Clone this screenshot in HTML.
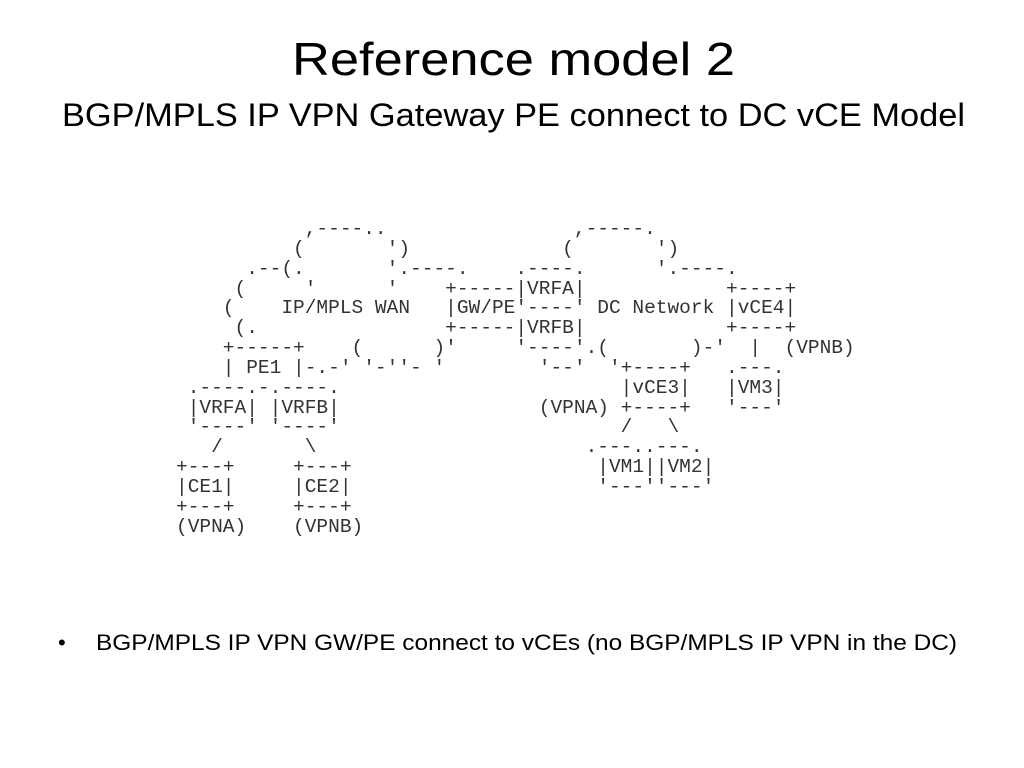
<!DOCTYPE html>
<html><head><meta charset="utf-8"><style>
html,body{margin:0;padding:0;background:#fff;}
body{width:1024px;height:768px;position:relative;overflow:hidden;}
svg{position:absolute;left:0;top:0;}
pre{position:absolute;left:176px;top:220px;margin:0;font-family:"Liberation Mono",monospace;font-size:19.5px;line-height:19.85px;color:#333;}
</style></head><body>
<svg width="1024" height="768" xmlns="http://www.w3.org/2000/svg">
<text x="292" y="75" font-family="Liberation Sans, sans-serif" font-size="46" textLength="443" lengthAdjust="spacingAndGlyphs" fill="#000">Reference model  2</text>
<text x="62" y="126" font-family="Liberation Sans, sans-serif" font-size="32" textLength="903" lengthAdjust="spacingAndGlyphs" fill="#000">BGP/MPLS IP VPN Gateway PE connect to DC vCE Model</text>
<text x="58" y="650" font-family="Liberation Sans, sans-serif" font-size="22" fill="#000">•</text>
<text x="96" y="650" font-family="Liberation Sans, sans-serif" font-size="22" textLength="861" lengthAdjust="spacingAndGlyphs" fill="#000">BGP/MPLS IP VPN GW/PE connect to vCEs (no BGP/MPLS IP VPN in the DC)</text>
</svg>
<pre>           ,----..                ,-----.
          (       ')             (       ')
      .--(.       '.----.    .----.      '.----.
     (     '      '    +-----|VRFA|            +----+
    (    IP/MPLS WAN   |GW/PE'----' DC Network |vCE4|
     (.                +-----|VRFB|            +----+
    +-----+    (      )'     '----'.(       )-'  |  (VPNB)
    | PE1 |-.-' '-''- '        '--'  '+----+   .---.
 .----.-.----.                        |vCE3|   |VM3|
 |VRFA| |VRFB|                 (VPNA) +----+   '---'
 '----' '----'                        /   \
   /       \                       .---..---.
+---+     +---+                     |VM1||VM2|
|CE1|     |CE2|                     '---''---'
+---+     +---+
(VPNA)    (VPNB)</pre>
</body></html>
